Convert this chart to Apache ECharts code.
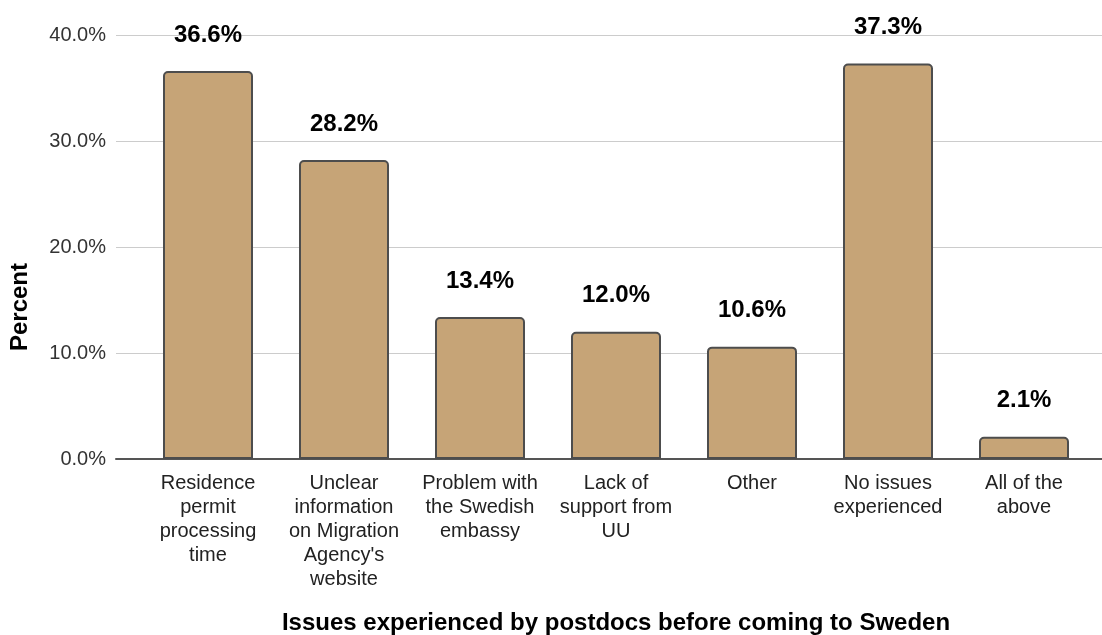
<!DOCTYPE html>
<html>
<head>
<meta charset="utf-8">
<script src="https://cdn.jsdelivr.net/npm/echarts@6/dist/echarts.min.js"></script>
<style>
  html, body { margin: 0; padding: 0; background: #fff; }
  #chart { width: 1102px; height: 635px; }
</style>
</head>
<body>
<div id="chart"></div>
<script>
// Issues experienced by postdocs before coming to Sweden (percent of respondents)
const categories = [
  'Residence\npermit\nprocessing\ntime',
  'Unclear\ninformation\non Migration\nAgency\'s\nwebsite',
  'Problem with\nthe Swedish\nembassy',
  'Lack of\nsupport from\nUU',
  'Other',
  'No issues\nexperienced',
  'All of the\nabove'
];
const percents = [36.6, 28.2, 13.4, 12.0, 10.6, 37.3, 2.1];
const yTicks = [0, 10, 20, 30, 40];

const FONT = '"Liberation Sans", Arial, sans-serif';
const TOP = 35, BOTTOM = 635 - 459;

const chart = echarts.init(document.getElementById('chart'), null, { renderer: 'canvas' });

chart.setOption({
  animation: false,
  backgroundColor: '#ffffff',
  textStyle: { fontFamily: FONT },
  grid: [
    // frame grid: y ticks, gridlines and baseline
    { left: 116, right: 0, top: TOP, bottom: BOTTOM, outerBoundsMode: 'none', containLabel: false },
    // bar grid
    { left: 140, right: 10, top: TOP, bottom: BOTTOM, outerBoundsMode: 'none', containLabel: false }
  ],
  xAxis: [
    {
      gridIndex: 0, type: 'value', min: 0, max: 1,
      axisLine: { show: true, lineStyle: { color: '#555555', width: 2 } },
      axisTick: { show: false }, axisLabel: { show: false }, splitLine: { show: false }
    },
    {
      gridIndex: 1, type: 'category', data: categories,
      axisLine: { show: false }, axisTick: { show: false },
      axisLabel: {
        interval: 0, margin: 12, color: '#222222', fontSize: 20,
        lineHeight: 24, fontFamily: FONT, align: 'center'
      },
      name: 'Issues experienced by postdocs before coming to Sweden',
      nameLocation: 'middle', nameGap: 152,
      nameTextStyle: { fontSize: 24, fontWeight: 'bold', color: '#000000', fontFamily: FONT }
    }
  ],
  yAxis: [
    {
      gridIndex: 0, type: 'value', min: yTicks[0], max: yTicks[yTicks.length - 1], interval: 10,
      axisLine: { show: false }, axisTick: { show: false },
      axisLabel: {
        margin: 10, color: '#333333', fontSize: 20, fontFamily: FONT,
        formatter: v => v.toFixed(1) + '%'
      },
      splitLine: { show: true, lineStyle: { color: '#cccccc', width: 1 } }
    },
    {
      gridIndex: 1, type: 'value', min: yTicks[0], max: yTicks[yTicks.length - 1], interval: 10,
      show: false
    }
  ],
  graphic: [
    {
      type: 'text', x: 20, y: 307, rotation: Math.PI / 2,
      style: {
        text: 'Percent', fill: '#000000', font: 'bold 24px ' + FONT,
        textAlign: 'center', textVerticalAlign: 'middle'
      }
    }
  ],
  series: [
    {
      type: 'bar', xAxisIndex: 1, yAxisIndex: 1,
      data: percents, barWidth: 90,
      itemStyle: {
        color: '#c6a477', borderColor: '#4d4d4d', borderWidth: 2,
        borderRadius: [4, 4, 0, 0]
      },
      label: {
        show: true, position: 'top', distance: 24,
        formatter: p => p.value.toFixed(1) + '%',
        fontSize: 24, fontWeight: 'bold', color: '#000000', fontFamily: FONT
      }
    }
  ]
});
</script>
</body>
</html>
